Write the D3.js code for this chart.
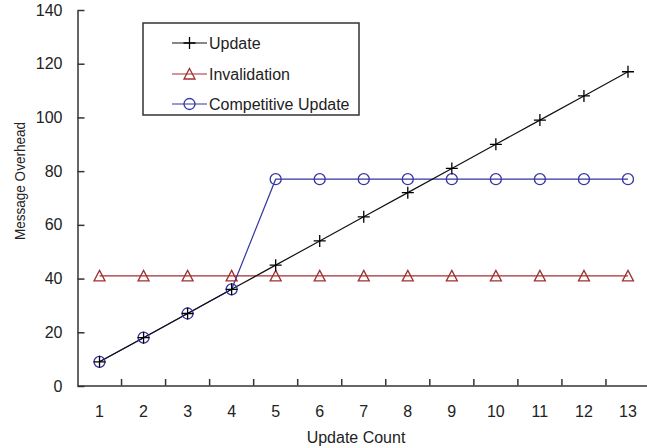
<!DOCTYPE html>
<html><head><meta charset="utf-8">
<script src="https://cdn.jsdelivr.net/npm/d3@7/dist/d3.min.js"></script>
<style>body{margin:0;background:#fff;} text{font-family:"Liberation Sans",Arial,sans-serif;fill:#222;}</style>
</head><body>
<svg id="c" width="647" height="448"></svg>
<script>
const categories = [1,2,3,4,5,6,7,8,9,10,11,12,13];
const updateVals = [9,18,27,36,45,54,63,72,81,90,99,108,117];
const invalidationVals = [41,41,41,41,41,41,41,41,41,41,41,41,41];
const competitiveVals = [9,18,27,36,77,77,77,77,77,77,77,77,77];
const yTicks = [0,20,40,60,80,100,120,140];
const seriesNames = ["Update","Invalidation","Competitive Update"];

const svg = d3.select("#c");
const x = d3.scaleBand().domain(categories).range([77.5, 650]).padding(0);
const y = d3.scaleLinear().domain([0,140]).range([386, 10]);
const cx = d => x(d) + x.bandwidth()/2;
const axisColor = "#333";

// y axis
const ya = svg.append("g").attr("transform","translate(77.5,0)")
  .call(d3.axisLeft(y).tickValues(yTicks).tickSize(-7).tickPadding(14).tickSizeOuter(0));
ya.select(".domain").attr("stroke",axisColor).attr("stroke-width",1.5);
ya.selectAll(".tick line").attr("stroke",axisColor).attr("stroke-width",1.5);
ya.selectAll(".tick text").attr("font-size",16).attr("fill","#222").attr("font-family","Liberation Sans, Arial, sans-serif");
ya.selectAll(".tick text").attr("x",-15);

// x axis
const xa = svg.append("g").attr("transform","translate(0,385.5)")
  .call(d3.axisBottom(x).tickValues(categories).tickSize(0).tickPadding(20).tickSizeOuter(0));
xa.select(".domain").attr("stroke",axisColor).attr("stroke-width",1.5);
xa.selectAll(".tick text").attr("font-size",16).attr("fill","#222").attr("font-family","Liberation Sans, Arial, sans-serif");
// boundary ticks
svg.append("g").selectAll("line").data(categories.slice(1)).join("line")
  .attr("x1",d=>x(d)).attr("x2",d=>x(d)).attr("y1",385.5).attr("y2",379)
  .attr("stroke",axisColor).attr("stroke-width",1.5);

// axis titles
svg.append("text").attr("x",356).attr("y",443).attr("text-anchor","middle")
  .attr("font-size",16).text("Update Count");
svg.append("text").attr("transform","translate(25,181) rotate(-90)").attr("text-anchor","middle")
  .attr("font-size",15).attr("textLength",118).attr("lengthAdjust","spacingAndGlyphs").text("Message Overhead");

const line = d3.line().x((d,i)=>cx(categories[i])).y(d=>y(d));
const colors = ["#111","#a03030","#3535a0"];
const data = [updateVals, invalidationVals, competitiveVals];

function marker(g, type, color){
  if(type===0){
    g.append("path").attr("d","M-6,0H6M0,-6V6").attr("stroke","#000").attr("stroke-width",1.3).attr("fill","none");
  } else if(type===1){
    g.append("path").attr("d","M0,-5.5L5.5,5L-5.5,5Z").attr("stroke",color).attr("stroke-width",1.3).attr("fill","none");
  } else {
    g.append("circle").attr("r",5.5).attr("stroke",color).attr("stroke-width",1.3).attr("fill","none");
  }
}

// draw in order: invalidation, competitive, update
[1,2,0].forEach(s=>{
  svg.append("path").datum(data[s]).attr("d",line).attr("fill","none")
    .attr("stroke",colors[s]).attr("stroke-width",1.2);
});
[1,2,0].forEach(s=>{
  data[s].forEach((v,i)=>{
    const g = svg.append("g").attr("transform",`translate(${cx(categories[i])},${y(v)})`);
    marker(g,s,colors[s]);
  });
});

// legend
svg.append("rect").attr("x",143).attr("y",23).attr("width",216).attr("height",92)
  .attr("fill","#fff").attr("stroke","#333").attr("stroke-width",1.5);
const ly = [43,74,104];
seriesNames.forEach((n,s)=>{
  svg.append("line").attr("x1",172).attr("x2",207).attr("y1",ly[s]).attr("y2",ly[s])
    .attr("stroke",colors[s]).attr("stroke-width",1.2);
  const g = svg.append("g").attr("transform",`translate(189.5,${ly[s]})`);
  marker(g,s,colors[s]);
  svg.append("text").attr("x",209).attr("y",ly[s]+5.5).attr("font-size",16).text(n);
});
</script>
</body></html>
